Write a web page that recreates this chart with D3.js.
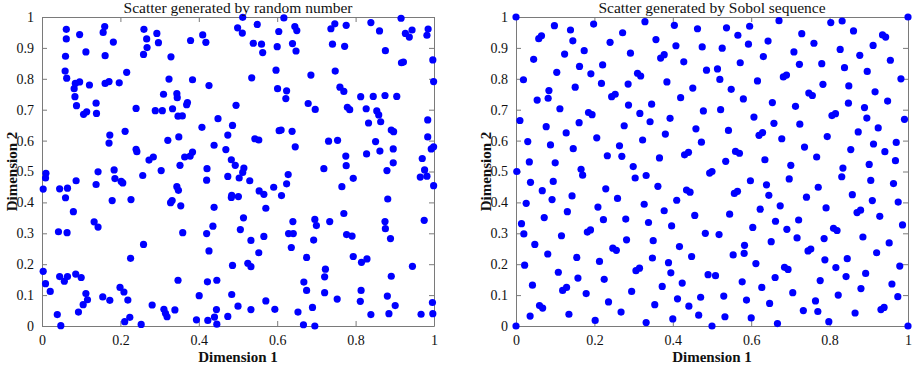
<!DOCTYPE html>
<html>
<head>
<meta charset="utf-8">
<script src="https://cdn.jsdelivr.net/npm/d3@7"></script>
<style>
  html, body { margin: 0; padding: 0; background: #fff; }
  svg { display: block; }
</style>
</head>
<body>
<script>
// ---------------- DATA ----------------
const titles = ["Scatter generated by random number", "Scatter generated by Sobol sequence"];
const xLabel = "Dimension 1";
const yLabel = "Dimension 2";
const xTicks = [0, 0.2, 0.4, 0.6, 0.8, 1];
const yTicks = [0, 0.1, 0.2, 0.3, 0.4, 0.5, 0.6, 0.7, 0.8, 0.9, 1];

// Random-number scatter, points as [dimension1, dimension2]
const randomPoints = [
[0.062,0.960],[0.062,0.929],[0.060,0.873],[0.059,0.825],[0.063,0.802],[0.096,0.943],[0.112,0.887],[0.085,0.785],[0.096,0.790],[0.082,0.768],[0.084,0.742],[0.088,0.713],[0.121,0.780],[0.106,0.685],[0.114,0.693],[0.138,0.721],[0.139,0.688],[0.160,0.969],[0.156,0.950],[0.161,0.875],[0.182,0.919],[0.161,0.785],[0.171,0.791],[0.197,0.787],[0.216,0.821],[0.173,0.618],[0.171,0.592],[0.212,0.630],[0.240,0.704],[0.240,0.572],[0.242,0.564],[0.260,0.960],[0.267,0.929],[0.268,0.901],[0.259,0.879],[0.293,0.947],[0.297,0.917],[0.329,0.871],[0.324,0.799],[0.310,0.750],[0.289,0.697],[0.307,0.697],[0.333,0.703],[0.344,0.752],[0.345,0.739],[0.347,0.679],[0.358,0.680],[0.371,0.723],[0.369,0.716],[0.349,0.612],[0.321,0.601],[0.273,0.537],[0.284,0.547],[0.352,0.520],[0.364,0.547],[0.378,0.550],[0.384,0.563],[0.379,0.924],[0.384,0.797],[0.410,0.942],[0.418,0.918],[0.426,0.778],[0.408,0.643],[0.449,0.671],[0.439,0.585],[0.421,0.509],[0.486,0.649],[0.474,0.618],[0.469,0.571],[0.483,0.538],[0.493,0.520],[0.495,0.714],
[0.512,0.999],[0.499,0.965],[0.511,0.948],[0.549,0.976],[0.539,0.915],[0.560,0.912],[0.563,0.885],[0.604,0.953],[0.600,0.904],[0.617,0.997],[0.645,0.969],[0.650,0.956],[0.639,0.914],[0.648,0.890],[0.597,0.828],[0.535,0.803],[0.601,0.768],[0.624,0.761],[0.622,0.736],[0.686,0.812],[0.679,0.720],[0.697,0.701],[0.605,0.632],[0.610,0.634],[0.638,0.630],[0.646,0.580],[0.543,0.606],[0.553,0.602],[0.515,0.511],[0.719,0.509],[0.737,0.962],[0.747,0.978],[0.776,0.973],[0.741,0.912],[0.772,0.905],[0.748,0.825],[0.760,0.773],[0.770,0.759],[0.779,0.708],[0.785,0.700],[0.731,0.598],[0.754,0.601],[0.775,0.550],[0.776,0.519],[0.839,0.982],[0.861,0.955],[0.876,0.891],[0.916,0.996],[0.927,0.947],[0.937,0.935],[0.944,0.958],[0.985,0.961],[0.982,0.941],[0.917,0.852],[0.922,0.854],[0.997,0.861],[0.999,0.791],[0.813,0.742],[0.845,0.743],[0.875,0.746],[0.905,0.743],[0.827,0.703],[0.854,0.696],[0.859,0.683],[0.864,0.661],[0.833,0.657],[0.891,0.634],[0.897,0.629],[0.984,0.667],[0.984,0.612],[0.993,0.573],[0.999,0.580],[0.851,0.597],[0.862,0.566],[0.896,0.573],[0.828,0.557],[0.896,0.528],[0.970,0.542],
[0.010,0.494],[0.009,0.479],[0.003,0.443],[0.143,0.499],[0.184,0.505],[0.138,0.458],[0.186,0.477],[0.202,0.468],[0.206,0.463],[0.257,0.487],[0.304,0.503],[0.087,0.470],[0.045,0.444],[0.065,0.446],[0.060,0.415],[0.080,0.370],[0.179,0.406],[0.227,0.409],[0.344,0.451],[0.348,0.439],[0.328,0.399],[0.332,0.406],[0.354,0.389],[0.133,0.337],[0.143,0.320],[0.042,0.305],[0.064,0.302],[0.259,0.264],[0.226,0.219],[0.359,0.302],[0.420,0.472],[0.474,0.484],[0.503,0.479],[0.484,0.423],[0.483,0.416],[0.501,0.419],[0.439,0.384],[0.436,0.323],[0.420,0.299],[0.426,0.243],[0.506,0.312],[0.486,0.196],[0.003,0.177],[0.009,0.137],[0.021,0.112],[0.045,0.160],[0.057,0.145],[0.065,0.160],[0.086,0.168],[0.100,0.157],[0.112,0.105],[0.116,0.085],[0.105,0.069],[0.093,0.045],[0.039,0.037],[0.048,0.001],[0.155,0.094],[0.173,0.083],[0.199,0.125],[0.209,0.110],[0.219,0.084],[0.224,0.028],[0.211,0.014],[0.253,0.005],[0.281,0.068],[0.311,0.054],[0.315,0.041],[0.319,0.030],[0.339,0.052],[0.347,0.148],[0.401,0.098],[0.394,0.020],[0.422,0.143],[0.446,0.148],[0.445,0.053],[0.440,0.029],[0.423,0.018],[0.446,0.006],[0.474,0.031],[0.484,0.102],[0.500,0.064],
[0.530,0.470],[0.628,0.490],[0.624,0.460],[0.591,0.449],[0.611,0.422],[0.554,0.437],[0.566,0.426],[0.571,0.381],[0.514,0.350],[0.533,0.277],[0.566,0.290],[0.553,0.237],[0.525,0.203],[0.533,0.192],[0.765,0.451],[0.794,0.478],[0.880,0.503],[0.976,0.505],[0.965,0.482],[0.982,0.485],[0.999,0.454],[0.882,0.411],[0.640,0.338],[0.629,0.299],[0.641,0.299],[0.636,0.254],[0.696,0.345],[0.700,0.325],[0.734,0.338],[0.770,0.364],[0.693,0.278],[0.675,0.222],[0.777,0.296],[0.791,0.291],[0.794,0.225],[0.815,0.206],[0.829,0.217],[0.723,0.184],[0.721,0.159],[0.668,0.142],[0.675,0.115],[0.721,0.108],[0.753,0.087],[0.690,0.060],[0.653,0.045],[0.667,0.004],[0.696,0.000],[0.594,0.054],[0.571,0.081],[0.533,0.053],[0.875,0.338],[0.876,0.315],[0.889,0.283],[0.975,0.342],[0.945,0.193],[0.891,0.161],[0.814,0.115],[0.812,0.080],[0.881,0.097],[0.901,0.066],[0.839,0.037],[0.885,0.040],[0.967,0.038],[0.996,0.076],[0.997,0.040],[0.512,0.497]
];

// Sobol-sequence scatter, points as [dimension1, dimension2]
const sobolPoints = [
[0,1],[0.098,0.972],[0.139,0.958],[0.198,0.977],[0.329,0.985],[0.404,0.973],[0.463,0.962],[0.058,0.930],[0.065,0.939],[0.145,0.923],[0.240,0.918],[0.272,0.949],[0.357,0.927],[0.408,0.907],[0.475,0.903],[0.045,0.863],[0.124,0.880],[0.174,0.891],[0.292,0.883],[0.369,0.867],[0.378,0.878],[0.428,0.855],[0.104,0.821],[0.162,0.840],[0.221,0.845],[0.191,0.816],[0.310,0.818],[0.318,0.809],[0.019,0.797],[0.486,0.828],[0.084,0.762],[0.151,0.773],[0.218,0.785],[0.286,0.783],[0.385,0.790],[0.451,0.770],[0.054,0.731],[0.082,0.737],[0.244,0.742],[0.253,0.750],[0.420,0.739],[0.112,0.703],[0.185,0.691],[0.194,0.684],[0.287,0.715],[0.316,0.688],[0.346,0.718],[0.010,0.665],[0.161,0.658],[0.276,0.648],[0.342,0.661],[0.393,0.672],[0.478,0.696],[0.077,0.645],[0.128,0.625],[0.206,0.609],[0.323,0.602],[0.381,0.621],[0.459,0.638],[0.030,0.597],[0.088,0.586],[0.146,0.574],[0.264,0.583],[0.473,0.595],[0.034,0.531],[0.100,0.528],[0.233,0.551],[0.270,0.549],[0.366,0.544],[0.430,0.554],[0.440,0.562],[0.166,0.507],[0.299,0.516],
[0.537,0.965],[0.596,0.970],[0.671,0.988],[0.803,0.982],[0.832,0.987],[1,1],[0.566,0.941],[0.643,0.922],[0.729,0.946],[0.861,0.955],[0.935,0.942],[0.943,0.935],[0.526,0.899],[0.593,0.912],[0.760,0.915],[0.827,0.895],[0.911,0.908],[0.631,0.872],[0.709,0.887],[0.877,0.876],[0.514,0.832],[0.572,0.852],[0.723,0.847],[0.780,0.849],[0.838,0.836],[0.896,0.824],[0.955,0.860],[0.520,0.798],[0.616,0.793],[0.682,0.806],[0.690,0.812],[0.783,0.782],[0.849,0.777],[0.982,0.800],[0.549,0.766],[0.580,0.735],[0.654,0.723],[0.747,0.754],[0.756,0.746],[0.848,0.721],[0.916,0.758],[0.948,0.728],[0.522,0.700],[0.713,0.711],[0.607,0.676],[0.658,0.656],[0.724,0.653],[0.806,0.681],[0.815,0.687],[0.889,0.707],[0.895,0.673],[0.991,0.669],[0.542,0.633],[0.620,0.617],[0.629,0.626],[0.678,0.606],[0.794,0.613],[0.873,0.628],[0.924,0.641],[0.560,0.565],[0.570,0.559],[0.635,0.538],[0.736,0.579],[0.767,0.547],[0.854,0.571],[0.912,0.589],[0.941,0.564],[0.970,0.594],[0.968,0.535],[0.535,0.533],[0.701,0.520],[0.834,0.511],[0.901,0.523],[0.494,0.495],[0.500,0.500],
[0.002,0.500],[0.170,0.488],[0.304,0.479],[0.332,0.487],[0.362,0.452],[0.037,0.465],[0.067,0.438],[0.095,0.468],[0.092,0.409],[0.143,0.421],[0.229,0.444],[0.259,0.413],[0.026,0.397],[0.131,0.370],[0.209,0.385],[0.327,0.394],[0.410,0.407],[0.435,0.440],[0.444,0.433],[0.378,0.373],[0.456,0.358],[0.072,0.351],[0.223,0.344],[0.280,0.346],[0.338,0.335],[0.397,0.324],[0.014,0.331],[0.020,0.298],[0.116,0.292],[0.182,0.304],[0.190,0.311],[0.282,0.279],[0.350,0.276],[0.483,0.300],[0.048,0.264],[0.081,0.233],[0.155,0.222],[0.213,0.209],[0.247,0.252],[0.256,0.245],[0.348,0.220],[0.417,0.257],[0.448,0.225],[0.022,0.197],[0.108,0.174],[0.158,0.155],[0.225,0.151],[0.306,0.179],[0.315,0.187],[0.389,0.205],[0.395,0.172],[0.424,0.139],[0.490,0.166],[0.042,0.132],[0.119,0.115],[0.129,0.125],[0.179,0.105],[0.295,0.112],[0.373,0.128],[0.236,0.078],[0.268,0.045],[0.354,0.069],[0.412,0.088],[0.441,0.064],[0.471,0.093],[0.060,0.066],[0.068,0.058],[0.036,0.032],[0.135,0.038],[0.202,0.018],[0.332,0.011],[0.400,0.023],[0.466,0.035],[0,0],
[0.598,0.470],[0.639,0.457],[0.697,0.476],[0.771,0.449],[0.831,0.483],[0.905,0.471],[0.963,0.461],[0.557,0.429],[0.565,0.436],[0.645,0.423],[0.741,0.417],[0.858,0.425],[0.909,0.406],[0.975,0.401],[0.623,0.378],[0.674,0.389],[0.791,0.382],[0.870,0.367],[0.879,0.375],[0.928,0.355],[0.545,0.362],[0.662,0.339],[0.721,0.343],[0.691,0.313],[0.810,0.316],[0.819,0.309],[0.986,0.327],[0.604,0.319],[0.518,0.296],[0.717,0.285],[0.786,0.283],[0.885,0.288],[0.651,0.273],[0.583,0.261],[0.582,0.235],[0.554,0.230],[0.745,0.243],[0.752,0.249],[0.788,0.214],[0.845,0.218],[0.920,0.237],[0.952,0.269],[0.612,0.202],[0.685,0.190],[0.694,0.183],[0.816,0.189],[0.979,0.194],[0.892,0.170],[0.509,0.163],[0.661,0.157],[0.842,0.160],[0.776,0.147],[0.577,0.143],[0.627,0.125],[0.880,0.121],[0.959,0.136],[0.530,0.097],[0.588,0.084],[0.706,0.108],[0.822,0.100],[0.764,0.081],[0.974,0.095],[0.647,0.073],[0.733,0.050],[0.770,0.047],[0.865,0.042],[0.931,0.053],[0.939,0.060],[0.533,0.030],[0.600,0.026],[0.667,0.008],[0.798,0.014],[0.5,0],[1,0]
];

// ---------------- DRAW ----------------
const W = 913, H = 366;
const FONT = "'Liberation Serif', 'Times New Roman', Times, serif";
const AXIS_COLOR = "#7a7a7a";
const MARK_COLOR = "#0000ff";

const svg = d3.select("body").append("svg")
  .attr("width", W).attr("height", H)
  .attr("viewBox", `0 0 ${W} ${H}`);

const panels = [
  { left: 42, title: titles[0], data: randomPoints },
  { left: 516, title: titles[1], data: sobolPoints }
];
const plotTop = 17, plotW = 392, plotH = 309;

function styleAxis(s) {
  s.select(".domain").attr("stroke", AXIS_COLOR).attr("stroke-width", 1);
  s.selectAll(".tick line").attr("stroke", AXIS_COLOR).attr("stroke-width", 1);
  s.selectAll(".tick text")
    .attr("font-family", FONT).attr("font-size", 14).attr("fill", "#111");
}

panels.forEach(p => {
  const x = d3.scaleLinear().domain([0, 1]).range([p.left, p.left + plotW]);
  const y = d3.scaleLinear().domain([0, 1]).range([plotTop + plotH, plotTop]);
  const g = svg.append("g");

  const fmt = d => String(+d.toFixed(1));

  g.append("g").attr("transform", `translate(0,${plotTop + plotH})`)
    .call(d3.axisBottom(x).tickValues(xTicks).tickSize(-5).tickSizeOuter(0).tickPadding(9).tickFormat(fmt))
    .call(styleAxis);
  g.append("g").attr("transform", `translate(0,${plotTop})`)
    .call(d3.axisTop(x).tickValues(xTicks).tickSize(-5).tickSizeOuter(0).tickFormat(""))
    .call(styleAxis);
  g.append("g").attr("transform", `translate(${p.left},0)`)
    .call(d3.axisLeft(y).tickValues(yTicks).tickSize(-5).tickSizeOuter(0).tickPadding(8).tickFormat(fmt))
    .call(styleAxis);
  g.append("g").attr("transform", `translate(${p.left + plotW},0)`)
    .call(d3.axisRight(y).tickValues(yTicks).tickSize(-5).tickSizeOuter(0).tickFormat(""))
    .call(styleAxis);

  g.append("g").selectAll("circle")
    .data(p.data)
    .join("circle")
    .attr("cx", d => x(d[0]))
    .attr("cy", d => y(d[1]))
    .attr("r", 3.6)
    .attr("fill", MARK_COLOR);

  g.append("text")
    .attr("x", p.left + plotW / 2).attr("y", 13)
    .attr("text-anchor", "middle")
    .attr("font-family", FONT).attr("font-size", 15.5)
    .attr("fill", "#111")
    .text(p.title);

  g.append("text")
    .attr("x", p.left + plotW / 2).attr("y", 362)
    .attr("text-anchor", "middle")
    .attr("font-family", FONT).attr("font-size", 15).attr("font-weight", "bold")
    .attr("fill", "#111")
    .text(xLabel);

  const ly = plotTop + plotH / 2, lx = p.left - 25;
  g.append("text")
    .attr("transform", `translate(${lx},${ly}) rotate(-90)`)
    .attr("text-anchor", "middle")
    .attr("font-family", FONT).attr("font-size", 15).attr("font-weight", "bold")
    .attr("fill", "#111")
    .text(yLabel);
});
</script>
</body>
</html>
